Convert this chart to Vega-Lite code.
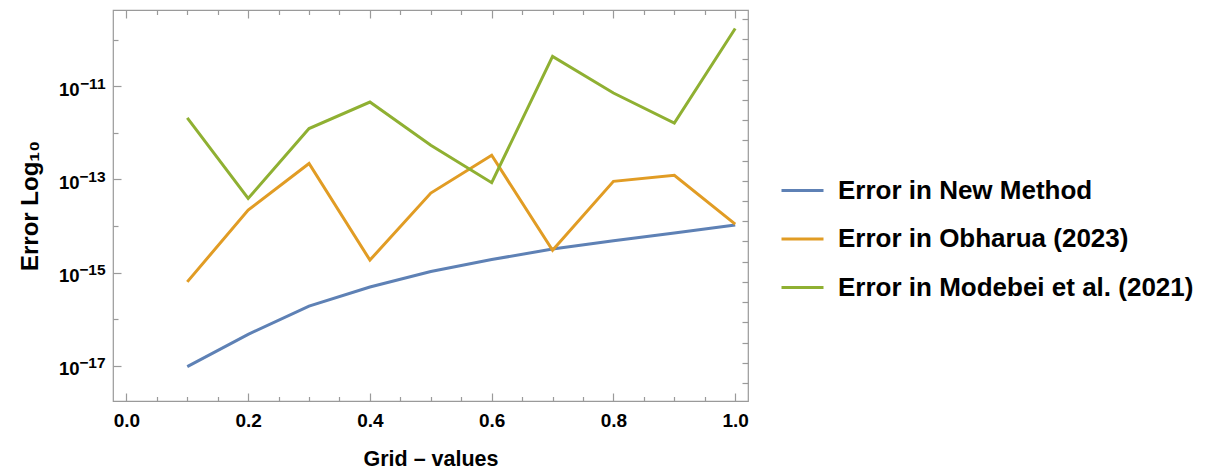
{
  "$schema": "https://vega.github.io/schema/vega-lite/v6.json",
  "width": 635,
  "height": 391,
  "autosize": "none",
  "padding": {"left": 113, "top": 10, "right": 463, "bottom": 69},
  "background": "white",
  "config": {
    "font": "Liberation Sans",
    "view": {"stroke": "#9a9a9a", "strokeWidth": 1.2},
    "axis": {"grid": false, "domain": false, "tickColor": "#9a9a9a", "tickWidth": 1.2, "labelFont": "Liberation Sans", "labelFontWeight": "bold", "labelColor": "black", "titleFont": "Liberation Sans", "titleFontWeight": "bold", "titleColor": "black"}
  },
  "data": {"values": [
    {"x": 0.1, "series": "Error in New Method", "error": 9.5e-18},
    {"x": 0.2, "series": "Error in New Method", "error": 4.7e-17},
    {"x": 0.3, "series": "Error in New Method", "error": 1.9e-16},
    {"x": 0.4, "series": "Error in New Method", "error": 4.9e-16},
    {"x": 0.5, "series": "Error in New Method", "error": 1.05e-15},
    {"x": 0.6, "series": "Error in New Method", "error": 1.9e-15},
    {"x": 0.7, "series": "Error in New Method", "error": 3.2e-15},
    {"x": 0.8, "series": "Error in New Method", "error": 4.8e-15},
    {"x": 0.9, "series": "Error in New Method", "error": 7.1e-15},
    {"x": 1.0, "series": "Error in New Method", "error": 1.05e-14},
    {"x": 0.1, "series": "Error in Obharua (2023)", "error": 6.3e-16},
    {"x": 0.2, "series": "Error in Obharua (2023)", "error": 2.2e-14},
    {"x": 0.3, "series": "Error in Obharua (2023)", "error": 2.2e-13},
    {"x": 0.4, "series": "Error in Obharua (2023)", "error": 1.85e-15},
    {"x": 0.5, "series": "Error in Obharua (2023)", "error": 5.1e-14},
    {"x": 0.6, "series": "Error in Obharua (2023)", "error": 3.3e-13},
    {"x": 0.7, "series": "Error in Obharua (2023)", "error": 3.0e-15},
    {"x": 0.8, "series": "Error in Obharua (2023)", "error": 9.1e-14},
    {"x": 0.9, "series": "Error in Obharua (2023)", "error": 1.23e-13},
    {"x": 1.0, "series": "Error in Obharua (2023)", "error": 1.1e-14},
    {"x": 0.1, "series": "Error in Modebei et al. (2021)", "error": 2.1e-12},
    {"x": 0.2, "series": "Error in Modebei et al. (2021)", "error": 3.9e-14},
    {"x": 0.3, "series": "Error in Modebei et al. (2021)", "error": 1.24e-12},
    {"x": 0.4, "series": "Error in Modebei et al. (2021)", "error": 4.6e-12},
    {"x": 0.5, "series": "Error in Modebei et al. (2021)", "error": 5.4e-13},
    {"x": 0.6, "series": "Error in Modebei et al. (2021)", "error": 8.5e-14},
    {"x": 0.7, "series": "Error in Modebei et al. (2021)", "error": 4.4e-11},
    {"x": 0.8, "series": "Error in Modebei et al. (2021)", "error": 7.2e-12},
    {"x": 0.9, "series": "Error in Modebei et al. (2021)", "error": 1.63e-12},
    {"x": 1.0, "series": "Error in Modebei et al. (2021)", "error": 1.75e-10}
  ]},
  "layer": [
    {
      "mark": {"type": "line", "strokeWidth": 3},
      "encoding": {
        "x": {"field": "x", "type": "quantitative",
          "scale": {"domain": [-0.022, 1.021], "nice": false, "zero": false},
          "axis": {"orient": "bottom", "title": "Grid – values", "titleFontSize": 21.5, "titlePadding": 18,
            "values": [0, 0.05, 0.1, 0.15, 0.2, 0.25, 0.3, 0.35, 0.4, 0.45, 0.5, 0.55, 0.6, 0.65, 0.7, 0.75, 0.8, 0.85, 0.9, 0.95, 1.0],
            "labelExpr": "abs(datum.value*5 - round(datum.value*5)) < 1e-6 ? format(datum.value, '.1f') : ''",
            "labelFontSize": 19, "labelPadding": 18, "labelFlush": false,
            "tickSize": {"condition": {"test": "abs(datum.value*5 - round(datum.value*5)) < 1e-6", "value": -8}, "value": -4.5}}},
        "y": {"field": "error", "type": "quantitative",
          "scale": {"type": "log", "domain": [1.738e-18, 4.365e-10], "nice": false},
          "axis": {"orient": "left", "title": "Error Log₁₀", "titleFontSize": 24, "titlePadding": 16,
            "values": [1e-17, 1e-16, 1e-15, 1e-14, 1e-13, 1e-12, 1e-11, 1e-10],
            "labelExpr": "abs(round(log(datum.value)/LN10)) % 2 == 1 ? '10' : ''",
            "labelFontSize": 18.5, "labelPadding": 42, "labelOffset": 3, "labelFlush": false,
            "tickSize": {"condition": {"test": "abs(round(log(datum.value)/LN10)) % 2 == 1", "value": -8}, "value": -5}}},
        "color": {"field": "series", "type": "nominal",
          "scale": {"domain": ["Error in New Method", "Error in Obharua (2023)", "Error in Modebei et al. (2021)"], "range": ["#5E81B5", "#E19C24", "#8FB032"]},
          "legend": {"title": null, "orient": "none", "legendX": 667, "legendY": 158, "padding": 0,
            "symbolType": "stroke", "symbolSize": 1764, "symbolStrokeWidth": 3,
            "labelFontSize": 26, "labelFontWeight": "bold", "labelFont": "Liberation Sans", "labelColor": "black",
            "labelOffset": 13, "rowPadding": 12.5, "labelLimit": 600}}
      }
    },
    {
      "mark": {"type": "line", "strokeWidth": 3, "opacity": 0},
      "encoding": {
        "x": {"field": "x", "type": "quantitative",
          "axis": {"orient": "top", "title": null, "labels": false,
            "values": [0, 0.05, 0.1, 0.15, 0.2, 0.25, 0.3, 0.35, 0.4, 0.45, 0.5, 0.55, 0.6, 0.65, 0.7, 0.75, 0.8, 0.85, 0.9, 0.95, 1.0],
            "tickSize": {"condition": {"test": "abs(datum.value*5 - round(datum.value*5)) < 1e-6", "value": -8}, "value": -4.5}}},
        "y": {"field": "error", "type": "quantitative",
          "axis": {"orient": "right", "title": null, "labels": false,
            "values": [2.7894680928689246e-10, 1.026187963170189e-10, 3.775134544279098e-11, 1.3887943864964021e-11, 5.109089028063325e-12, 1.8795288165390832e-12, 6.914400106940203e-13, 2.543665647376923e-13, 9.357622968840175e-14, 3.442477108469977e-14, 1.2664165549094176e-14, 4.658886145103398e-15, 1.713908431542013e-15, 6.305116760146989e-16, 2.3195228302435696e-16, 8.533047625744066e-17, 3.1391327920480296e-17, 1.1548224173015786e-17, 4.248354255291589e-18],
            "tickSize": -6}}
      }
    },
    {
      "mark": {"type": "line", "strokeWidth": 3, "opacity": 0},
      "encoding": {
        "x": {"field": "x", "type": "quantitative", "axis": null},
        "y": {"field": "error", "type": "quantitative",
          "axis": {"orient": "left", "title": null, "ticks": false,
            "values": [1e-17, 1e-15, 1e-13, 1e-11],
            "labelExpr": "'−' + format(-round(log(datum.value)/LN10), 'd')",
            "labelFontSize": 15.5, "labelPadding": 8, "labelOffset": -3, "labelFlush": false}}
      }
    }
  ],
  "resolve": {"axis": {"x": "independent", "y": "independent"}}
}
